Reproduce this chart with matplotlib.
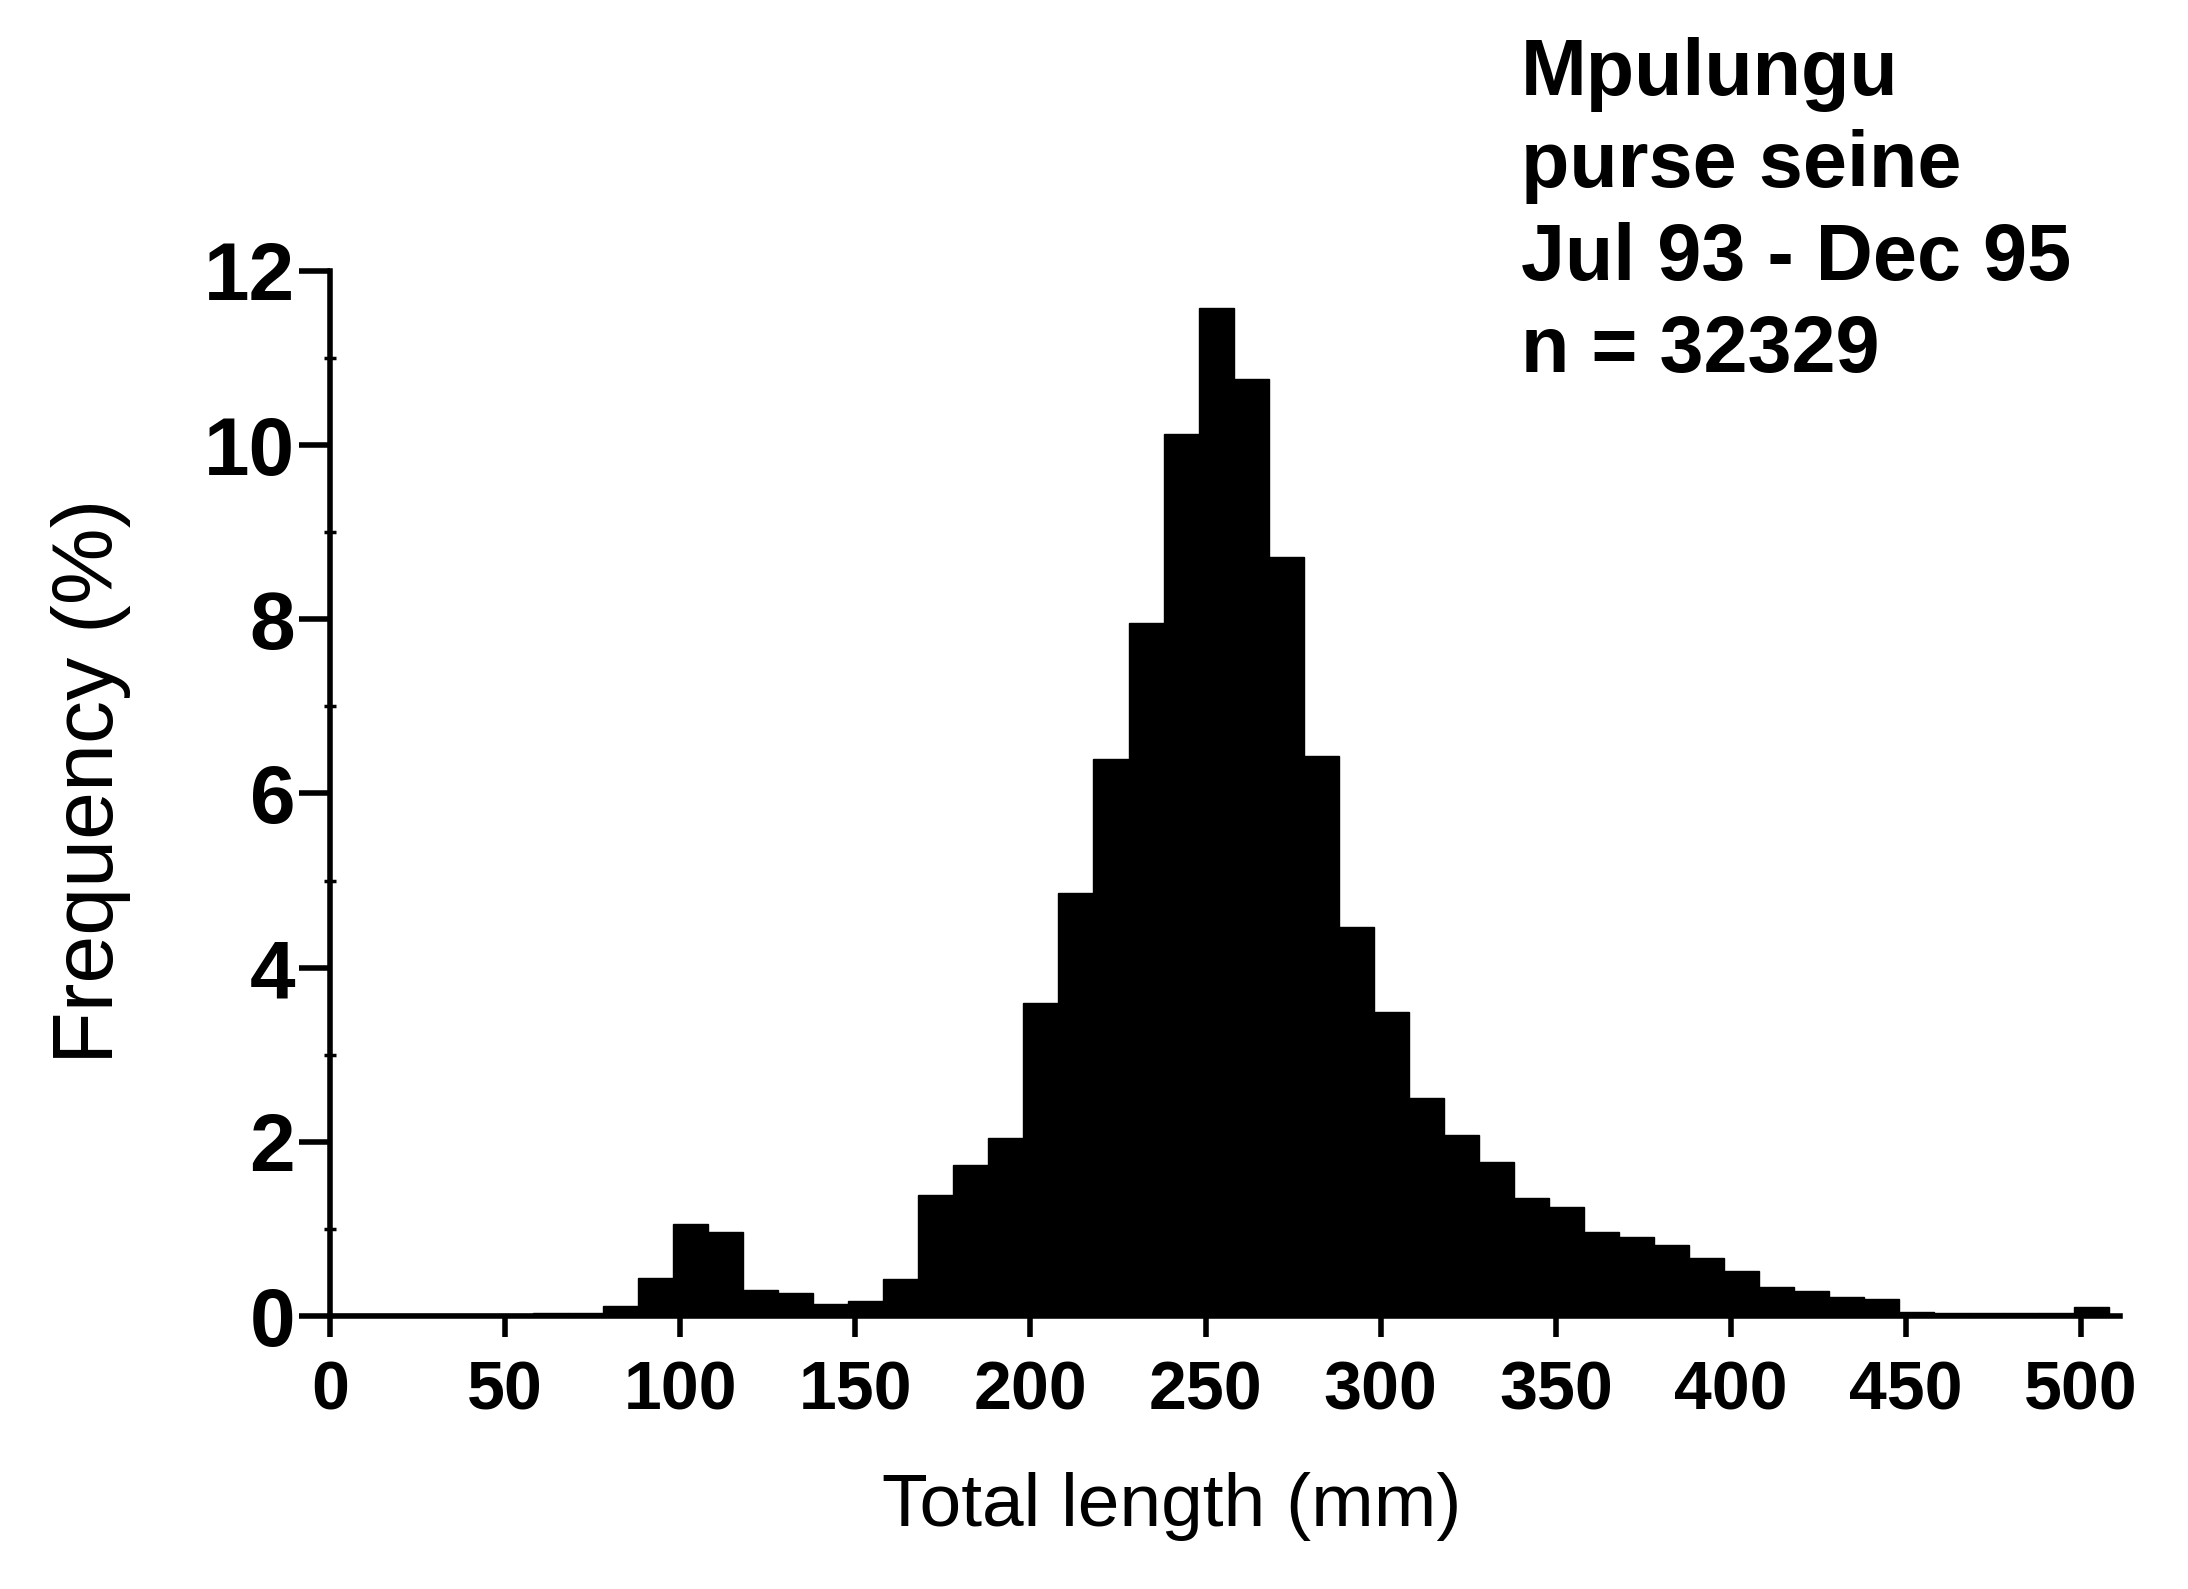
import matplotlib
matplotlib.use("Agg")
import matplotlib.pyplot as plt
import numpy as np

plt.rcParams['font.family'] = ['Liberation Sans', 'DejaVu Sans']

# length classes (lower edge, mm) and frequency (%)
length_class = list(range(0, 510, 10))
frequency = [0.02, 0.02, 0.02, 0.02, 0.02, 0.02, 0.03, 0.04,
             0.11, 0.44, 1.06, 0.97, 0.30, 0.26, 0.14, 0.17,
             0.42, 1.39, 1.73, 2.04, 3.59, 4.86, 6.40, 7.96,
             10.13, 11.58, 10.76, 8.72, 6.43, 4.47, 3.49, 2.50,
             2.08, 1.77, 1.35, 1.25, 0.97, 0.91, 0.81, 0.67,
             0.52, 0.33, 0.29, 0.22, 0.19, 0.05, 0.04, 0.04,
             0.04, 0.04, 0.10]

x_ticks = list(range(0, 501, 50))
y_ticks = list(range(0, 13, 2))
note_lines = ["Mpulungu", "purse seine", "Jul 93 - Dec 95", "n = 32329"]

# the printed bars sit a little left of the tick marks
bar_shift = -2

fig = plt.figure(figsize=(21.88, 15.89), dpi=100)
ax = fig.add_axes([0.1508, 0.1718, 0.818, 0.6577])

ax.bar(np.array(length_class) + bar_shift, frequency, width=10, align='edge',
       color='black', edgecolor='black', linewidth=1)

ax.set_xlim(0, 511)
ax.set_ylim(0, 12)
ax.set_xticks(x_ticks)
ax.set_yticks(y_ticks)
ax.set_yticks(range(1, 12, 2), minor=True)

for side in ['top', 'right']:
    ax.spines[side].set_visible(False)
for side in ['left', 'bottom']:
    ax.spines[side].set_linewidth(4)
ax.spines['left'].set_bounds(0, 12)

ax.tick_params(axis='y', which='major', direction='out', length=22, width=4,
               pad=3, labelsize=59)
ax.tick_params(axis='y', which='minor', direction='inout', length=8, width=2.5)
ax.tick_params(axis='x', which='major', direction='out', length=15, width=4,
               pad=16, labelsize=49)
for lab in ax.get_xticklabels() + ax.get_yticklabels():
    lab.set_fontweight('bold')

fig.text(0.5357, 0.052, "Total length (mm)", fontsize=54,
         ha='center', va='center')
fig.text(0.0416, 0.5085, "Frequency (%)", fontsize=62, rotation=90,
         ha='center', va='center')

y0 = 0.953
for i, line in enumerate(note_lines):
    fig.text(0.695, y0 - i * 0.058, line, fontsize=57, fontweight='bold',
             va='center', ha='left')

fig.savefig("out.png", dpi=100)
